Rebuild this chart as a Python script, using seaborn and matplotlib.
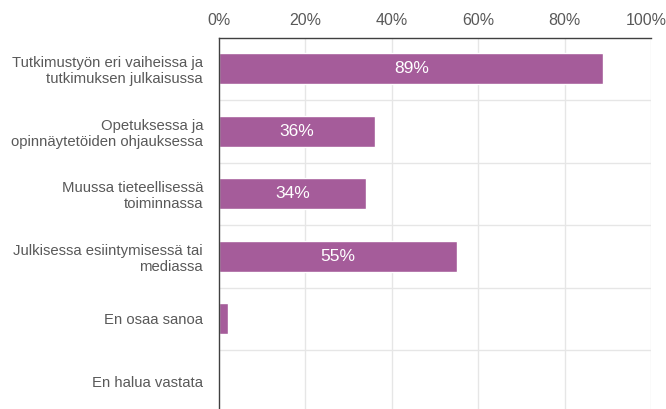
import matplotlib
matplotlib.use("Agg")
import matplotlib.pyplot as plt
import matplotlib.transforms as mtransforms
import seaborn as sns
import pandas as pd

## dados do gráfico

categorias = [
    "Tutkimustyön eri vaiheissa ja\ntutkimuksen julkaisussa",
    "Opetuksessa ja\nopinnäytetöiden ohjauksessa",
    "Muussa tieteellisessä\ntoiminnassa",
    "Julkisessa esiintymisessä tai\nmediassa",
    "En osaa sanoa",
    "En halua vastata",
]
valores = [89, 36, 34, 55, 2, 0]
rotulos = ["89%", "36%", "34%", "55%", "", ""]
ticks_x = [0, 20, 40, 60, 80, 100]

df = pd.DataFrame({"categoria": categorias, "valor": valores})

sns.set_style("white")
plt.rcParams["font.family"] = ["Liberation Sans", "DejaVu Sans"]

cinza = "#595959"
cor_barra = "#A55C9A"

fig = plt.figure(figsize=(6.66, 4.09), dpi=100)
ax = fig.add_axes([219 / 666, -3.5 / 409, 432 / 666, 375 / 409])

sns.barplot(
    data=df,
    x="valor",
    y="categoria",
    orient="h",
    color=cor_barra,
    saturation=1,
    width=0.5,
    ax=ax,
)

ax.set_xlim(0, 100)
ax.set_ylim(len(categorias) - 0.5, -0.5)
ax.xaxis.tick_top()
ax.set_xticks(ticks_x)
ax.set_xticklabels([f"{t}%" for t in ticks_x])
ax.tick_params(axis="x", length=0, pad=7, labelsize=11.5, labelcolor=cinza)
ax.tick_params(axis="y", length=0, pad=11.5, labelsize=10.7, labelcolor=cinza)
ax.set_xlabel("")
ax.set_ylabel("")

# desloca o rótulo de 100% para caber na figura
ultimo = ax.get_xticklabels()[-1]
ultimo.set_transform(ultimo.get_transform() + mtransforms.ScaledTranslation(-5 / 100, 0, fig.dpi_scale_trans))

# linhas de grade
for t in ticks_x[1:]:
    ax.axvline(t, color="#e6e6e6", lw=1, zorder=0)
for i in range(len(categorias) - 1):
    ax.axhline(i + 0.5, color="#e6e6e6", lw=1, zorder=0)

for lado in ["bottom", "right"]:
    ax.spines[lado].set_visible(False)
ax.spines["top"].set_color("#404040")
ax.spines["left"].set_color("#404040")
ax.spines["top"].set_linewidth(1)
ax.spines["left"].set_linewidth(1)

for i, (v, r) in enumerate(zip(valores, rotulos)):
    if r:
        ax.text(v / 2, i, r, ha="center", va="center", color="white", fontsize=12.5)

plt.savefig("out.png", dpi=100)
